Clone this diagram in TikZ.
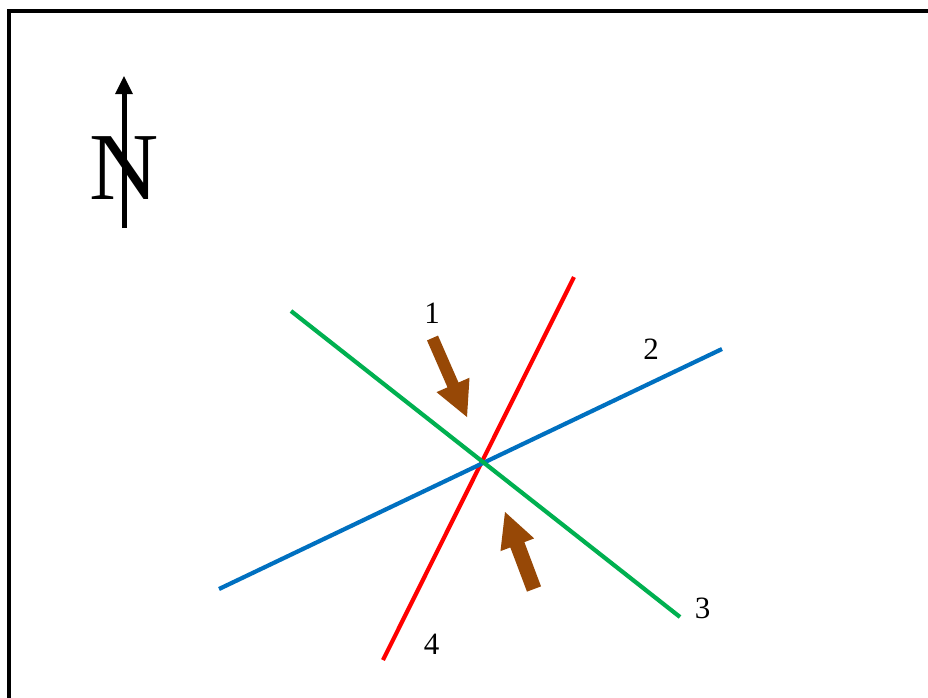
\documentclass[tikz,border=0pt]{standalone}
\usepackage{fontspec}
\setmainfont{Liberation Serif}
\usetikzlibrary{calc}
\definecolor{faultgreen}{HTML}{00B050}
\definecolor{faultblue}{HTML}{0070C0}
\definecolor{faultred}{HTML}{FF0000}
\definecolor{stressbrown}{HTML}{974806}
\tikzset{
  frameline/.style={draw=black, line width=4pt},
  faultline/.style={line width=4.2pt},
  numlabel/.style={anchor=base, inner sep=0pt, font=\fontsize{31}{31}\selectfont},
  northletter/.style={anchor=base, inner sep=0pt, font=\fontsize{96}{96}\selectfont},
  stressfill/.style={fill=stressbrown}
}
\newcommand\stressarrow[5]{% tail, tip, shaft width, head width, head length
  \coordinate (sbase) at ($(#2)!#5!(#1)$);
  \fill[stressfill]
    ($(#1)!#3/2!90:(#2)$) -- ($(sbase)!#3/2!90:(#2)$) -- ($(sbase)!#4/2!90:(#2)$) --
    (#2) --
    ($(sbase)!#4/2!-90:(#2)$) -- ($(sbase)!#3/2!-90:(#2)$) -- ($(#1)!#3/2!-90:(#2)$) -- cycle;
}
\begin{document}
\begin{tikzpicture}[x=1pt, y=-1pt]
  \clip (0,0) rectangle (928,697);
  \fill[white] (0,0) rectangle (928,697);
  % frame (extends past right and bottom edges)
  \draw[frameline] (8.7,11.3) rectangle (960,730);

  % north arrow
  \node[northletter] (N) at (124.5,199) {N};
  \coordinate (nbot) at (124,228);
  \coordinate (ntop) at (124,76);
  \coordinate (nhb) at (124,94);
  \draw[line width=5pt] (nbot) -- (nhb);
  \fill ($(nhb)+(-9,0)$) -- (ntop) -- ($(nhb)+(9,0)$) -- cycle;

  % fault lines
  \coordinate (r1) at (383,660);
  \coordinate (r2) at (574,277);
  \coordinate (b1) at (219,589);
  \coordinate (b2) at (722,349);
  \coordinate (g1) at (291,311);
  \coordinate (g2) at (680,617);
  \draw[faultline, faultred] (r1) -- (r2);
  \draw[faultline, faultblue] (b1) -- (b2);
  \draw[faultline, faultgreen] (g1) -- (g2);

  % stress arrows
  \coordinate (a1t) at (432.5,338);
  \coordinate (a1p) at (467,417);
  \coordinate (a2t) at (534,589);
  \coordinate (a2p) at (505,512);
  \stressarrow{a1t}{a1p}{12pt}{36pt}{35pt}
  \stressarrow{a2t}{a2p}{15pt}{36pt}{35pt}

  % labels
  \node[numlabel] (l1) at (432,323) {1};
  \node[numlabel] (l2) at (651,359) {2};
  \node[numlabel] (l3) at (702.5,618) {3};
  \node[numlabel] (l4) at (431.5,654) {4};
\end{tikzpicture}
\end{document}
